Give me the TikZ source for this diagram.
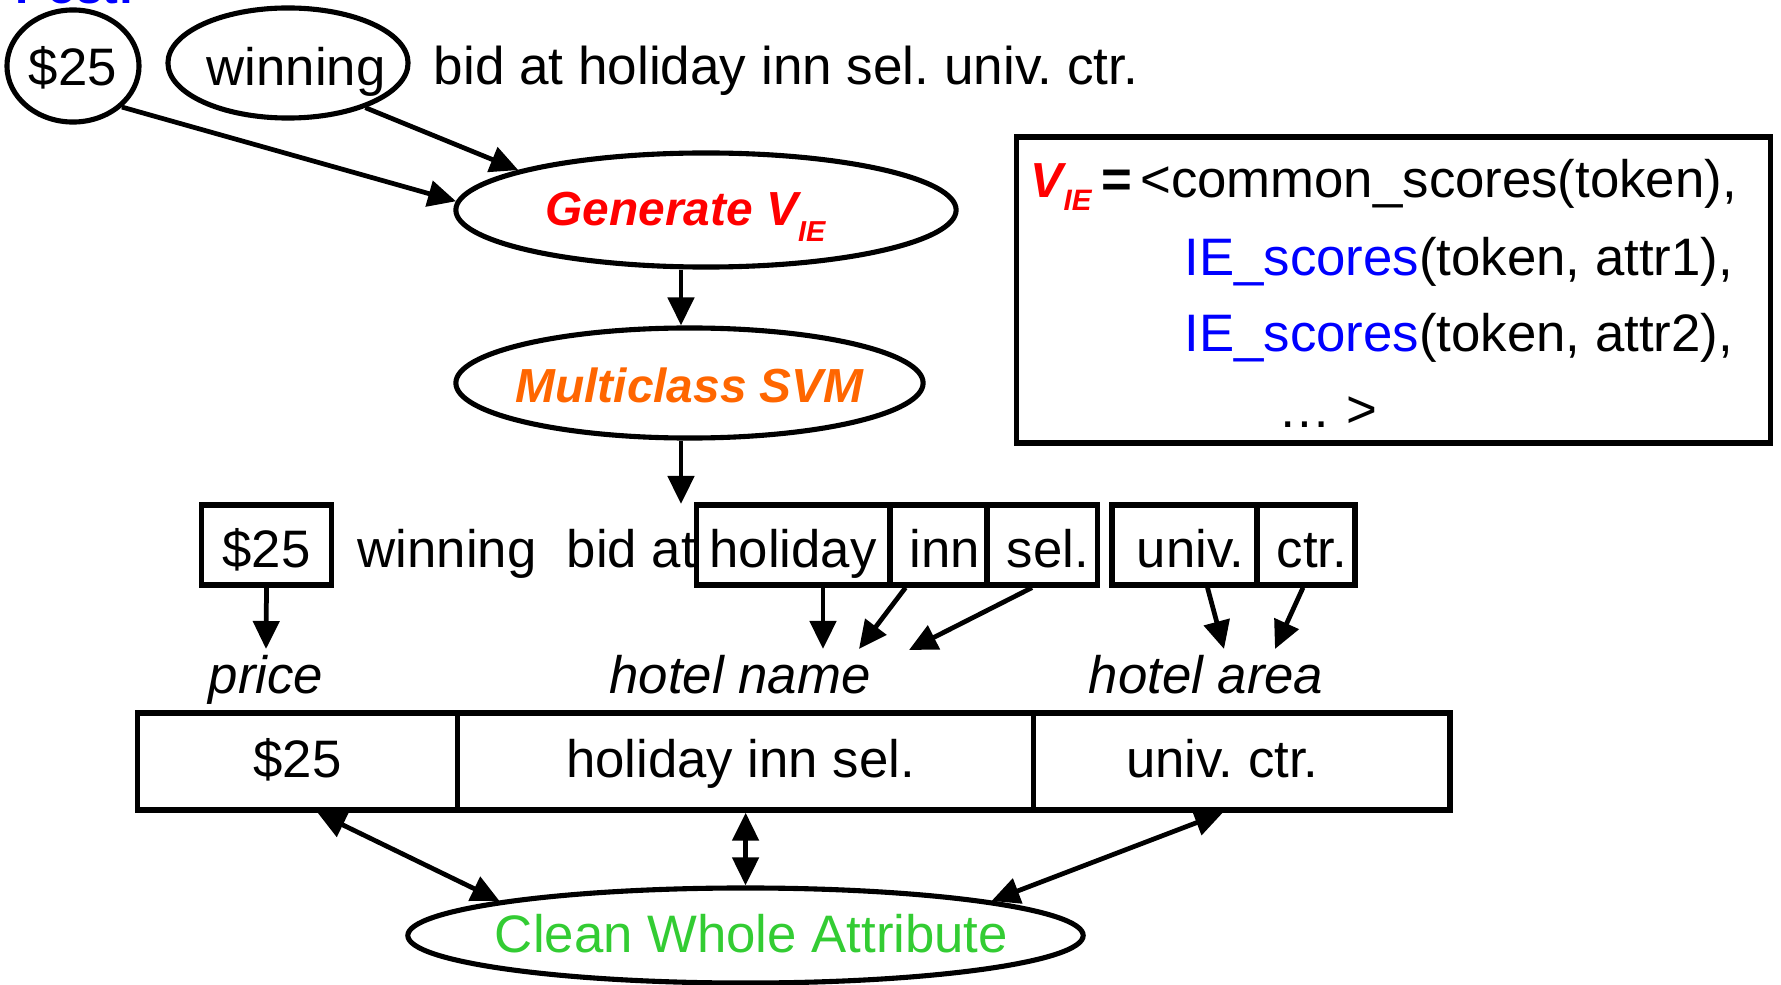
\documentclass[tikz,border=0pt]{standalone}
\usepackage{fontspec}
\setmainfont{Liberation Sans}
\usetikzlibrary{shapes.geometric, arrows.meta, calc}
\definecolor{ieblue}{RGB}{0,0,255}
\definecolor{svmorange}{RGB}{255,102,0}
\definecolor{cleangreen}{RGB}{51,204,51}
\definecolor{genred}{RGB}{255,0,0}
\newcommand\zw[1]{\makebox[0pt]{#1}}
\newcommand\fs[1]{\fontsize{#1}{#1}\selectfont}
\frenchspacing
\begin{document}
\begin{tikzpicture}[x=0.01cm, y=-0.01cm,
  every node/.style={font=\fs{15}},
  ell/.style={ellipse, draw, line width=1.45pt, inner sep=0pt, text depth=0pt},
  tok/.style={rectangle, draw, line width=1.5pt, inner sep=0pt, minimum height=0.80cm, text height=0.44cm, text depth=0pt},
  cell/.style={rectangle, draw, line width=1.5pt, inner sep=0pt, minimum height=0.97cm, text height=0.31cm, text depth=0pt},
  lbl/.style={inner sep=0pt, anchor=base, font=\fs{15}\itshape},
  txt/.style={inner sep=0pt, anchor=base west},
  arr/.style={line width=1.35pt, -{Triangle[length=0.28cm, width=0.26cm]}},
  darr/.style={line width=1.35pt, {Triangle[length=0.28cm, width=0.26cm]}-{Triangle[length=0.28cm, width=0.26cm]}},
]
\useasboundingbox (0,0) rectangle (1781,985);

% top sentence
\node[txt, font=\fs{13.5}\bfseries, text=ieblue] (post) at (15,4) {Post:};
\node[ell, minimum width=1.32cm, minimum height=1.12cm, text height=0.38cm] (c25) at (73,66) {\zw{\$25}};
\node[ell, minimum width=2.40cm, minimum height=1.10cm, text height=0.44cm] (win) at (288,63) {\zw{\hspace{0.16cm}winning}};
\node[txt, font=\fs{15.1}] (topline) at (433,85) {bid at holiday inn sel. univ. ctr.};

% process ellipses
\node[ell, minimum width=5.0cm, minimum height=1.14cm, text height=0.30cm, font=\fs{13.6}\bfseries\itshape, text=genred] (gen) at (706,210)
  {\zw{Generate V\raisebox{-0.16cm}{\fs{8.2}IE}\hspace{0.41cm}}};
\node[ell, minimum width=4.67cm, minimum height=1.10cm, text height=0.38cm, font=\fs{13.6}\bfseries\itshape, text=svmorange] (svm) at (689.5,383)
  {\zw{Multiclass SVM}};

% feature vector box
\node[draw, line width=1.5pt, minimum width=7.53cm, minimum height=3.06cm, inner sep=0pt] (vbox) at (1393.5,290) {};
\node[txt] (l1) at (1030,198) {{\fs{14}\bfseries\itshape\color{genred}V\raisebox{-0.12cm}{\fs{8.4}IE}}\hspace{0.10cm}\textbf{=}\hspace{0.08cm}<common\_scores(token),};
\node[txt] (l2) at (1184,275) {\textcolor{ieblue}{IE\_scores}(token, attr1),};
\node[txt] (l3) at (1184,352) {\textcolor{ieblue}{IE\_scores}(token, attr2),};
\node[txt] (l4) at (1278,428) {… >};

% token row
\node[tok, minimum width=1.30cm] (t25) at (266.5,545) {\$25};
\node[txt] (twin) at (357,567) {winning};
\node[txt] (tbid) at (566,567) {bid at};
\node[tok, minimum width=1.93cm] (thol) at (793,545) {holiday};
\node[tok, minimum width=0.97cm] (tinn) at (938.5,545) {\hspace{0.12cm}inn};
\node[tok, minimum width=1.11cm] (tsel) at (1042,545) {\hspace{0.12cm}sel.};
\node[tok, minimum width=1.45cm] (tuni) at (1184.5,545) {\hspace{0.12cm}univ.};
\node[tok, minimum width=0.98cm] (tctr) at (1306,545) {\hspace{0.12cm}ctr.};

% labels
\node[lbl] (price) at (266,693) {price};
\node[lbl] (hname) at (740,693) {hotel name};
\node[lbl] (harea) at (1206,693) {hotel area};

% table
\node[cell, minimum width=3.203cm] (c1) at (297.55,761.5) {\$25};
\node[cell, minimum width=5.759cm] (c2) at (745.65,761.5) {\zw{holiday inn sel.\hspace{0.10cm}}};
\node[cell, minimum width=4.164cm] (c3) at (1241.8,761.5) {\zw{univ. ctr.\hspace{0.39cm}}};

% clean
\node[ell, minimum width=6.75cm, minimum height=0.95cm, text height=0.33cm, text=cleangreen] (clean) at (745.5,935.5)
  {\zw{\hspace{0.12cm}Clean Whole Attribute}};

% connectors
\coordinate (tokin) at (681,504);
\draw[arr] (c25.-40) -- (gen.178);
\draw[arr] (win.-30) -- (gen.168);
\draw[arr] (gen.south -| tokin) -- (svm.north -| tokin);
\draw[arr] (svm.south -| tokin) -- (tokin);
\draw[arr] (t25.south) -- ($(price.base)+(0,-44)$);
\draw[arr] ($(thol.south)+(30,0)$) -- ($(hname.base)+(83,-44)$);
\draw[arr] ($(tinn.south)+(-33,0)$) -- ($(hname.base)+(119,-44)$);
\draw[arr] ($(tsel.south)+(-10,0)$) -- ($(hname.base)+(169,-43)$);
\draw[arr] ($(tuni.south)+(23,0)$) -- ($(harea.base)+(18,-44)$);
\draw[arr] ($(tctr.south)+(-3,0)$) -- ($(harea.base)+(69,-44)$);
\draw[darr] ($(c1.south)+(20,0)$) -- (clean.172);
\draw[darr] (c2.south) -- (clean.north);
\draw[darr] ($(c3.south)+(-19,0)$) -- (clean.8);
\end{tikzpicture}
\end{document}
